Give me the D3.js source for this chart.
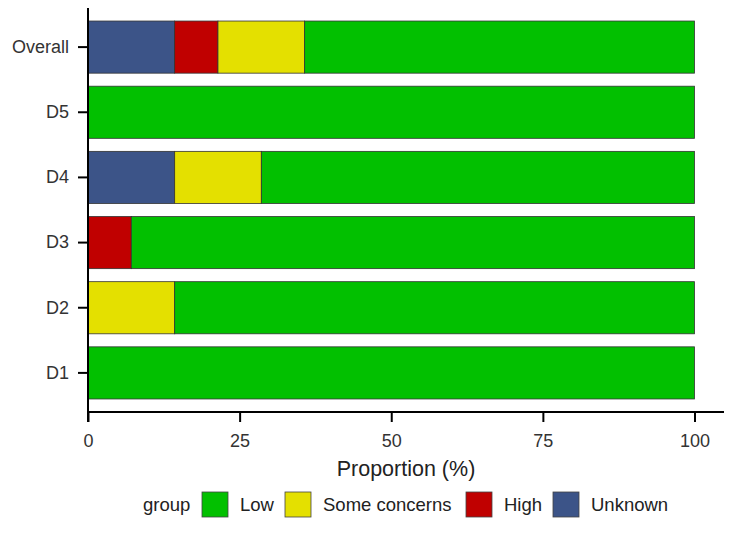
<!DOCTYPE html>
<html>
<head>
<meta charset="utf-8">
<script src="https://cdn.jsdelivr.net/npm/d3@7"></script>
<style>
  body { margin: 0; background: #fff; }
  text { font-family: "Liberation Sans", Arial, sans-serif; }
</style>
</head>
<body>
<div id="chart"></div>
<script>
// domains, top to bottom
const domains = ['Overall', 'D5', 'D4', 'D3', 'D2', 'D1'];

// stack order from left to right
const groups = ['Unknown', 'High', 'Some concerns', 'Low'];
const groupColors = ['#3c5488', '#c00000', '#e4e000', '#02c000'];

// proportion (%) per domain for each group
const unknownVals = [14.29, 0, 14.29, 0, 0, 0];
const highVals = [7.14, 0, 0, 7.14, 0, 0];
const someVals = [14.29, 0, 14.29, 0, 14.29, 0];
const lowVals = [64.28, 100, 71.42, 92.86, 85.71, 100];

const xTicks = [0, 25, 50, 75, 100];

// legend order
const legendGroups = ['Low', 'Some concerns', 'High', 'Unknown'];

const width = 750, height = 534;
const margin = { left: 88, top: 8, axisBottom: 412, axisRight: 724 };
const fontFamily = '"Liberation Sans", Arial, sans-serif';

const svg = d3.select('#chart').append('svg')
    .attr('width', width)
    .attr('height', height);

const rows = domains.map((d, i) => ({
    domain: d,
    'Unknown': unknownVals[i],
    'High': highVals[i],
    'Some concerns': someVals[i],
    'Low': lowVals[i]
}));

const x = d3.scaleLinear()
    .domain([0, 100])
    .range([margin.left, 694.5]);

const y = d3.scaleBand()
    .domain(domains)
    .range([margin.top, margin.axisBottom])
    .paddingInner(0.2)
    .paddingOuter(0.2);

const color = d3.scaleOrdinal().domain(groups).range(groupColors);

const series = d3.stack().keys(groups)(rows);

// bars
svg.append('g')
    .selectAll('g')
    .data(series)
    .join('g')
    .attr('fill', d => color(d.key))
    .selectAll('rect')
    .data(d => d.filter(p => p[1] - p[0] > 0))
    .join('rect')
    .attr('x', d => x(d[0]))
    .attr('y', d => y(d.data.domain))
    .attr('width', d => x(d[1]) - x(d[0]))
    .attr('height', y.bandwidth())
    .attr('stroke', '#333')
    .attr('stroke-width', 0.8);

// x axis
const xAxis = svg.append('g')
    .attr('transform', `translate(0,${margin.axisBottom})`)
    .call(d3.axisBottom(x).tickValues(xTicks).tickSize(10).tickPadding(12).tickSizeOuter(0));
xAxis.select('.domain').remove();
xAxis.append('line')
    .attr('x1', margin.left - 1).attr('x2', margin.axisRight)
    .attr('stroke', '#000').attr('stroke-width', 2);
xAxis.selectAll('.tick line').attr('stroke', '#000').attr('stroke-width', 2);
xAxis.selectAll('.tick text')
    .attr('fill', '#333')
    .attr('font-size', 18)
    .attr('font-family', fontFamily);

// y axis
const yAxis = svg.append('g')
    .attr('transform', `translate(${margin.left},0)`)
    .call(d3.axisLeft(y).tickSize(10).tickPadding(9).tickSizeOuter(0));
yAxis.select('.domain').remove();
yAxis.append('line')
    .attr('y1', margin.top).attr('y2', margin.axisBottom + 10)
    .attr('stroke', '#000').attr('stroke-width', 2);
yAxis.selectAll('.tick line').attr('stroke', '#000').attr('stroke-width', 2);
yAxis.selectAll('.tick text')
    .attr('fill', '#333')
    .attr('font-size', 18)
    .attr('font-family', fontFamily);

// axis title, centred on the panel
svg.append('text')
    .attr('x', (margin.left + margin.axisRight) / 2)
    .attr('y', 476)
    .attr('text-anchor', 'middle')
    .attr('fill', '#222')
    .attr('font-size', 21.5)
    .text('Proportion (%)');

// legend
const legend = svg.append('g').attr('transform', 'translate(0,492)');
legend.append('text')
    .attr('x', 143).attr('y', 13).attr('dy', '0.35em')
    .attr('fill', '#222').attr('font-size', 18.5)
    .text('group');

const legendX = [202, 285, 466, 553];
legendGroups.forEach((g, i) => {
    const item = legend.append('g').attr('transform', `translate(${legendX[i]},0)`);
    item.append('rect')
        .attr('width', 26).attr('height', 25)
        .attr('fill', color(g))
        .attr('stroke', '#444').attr('stroke-width', 0.8);
    item.append('text')
        .attr('x', 38).attr('y', 13).attr('dy', '0.35em')
        .attr('fill', '#222').attr('font-size', 18.5)
        .text(g);
});
</script>
</body>
</html>
